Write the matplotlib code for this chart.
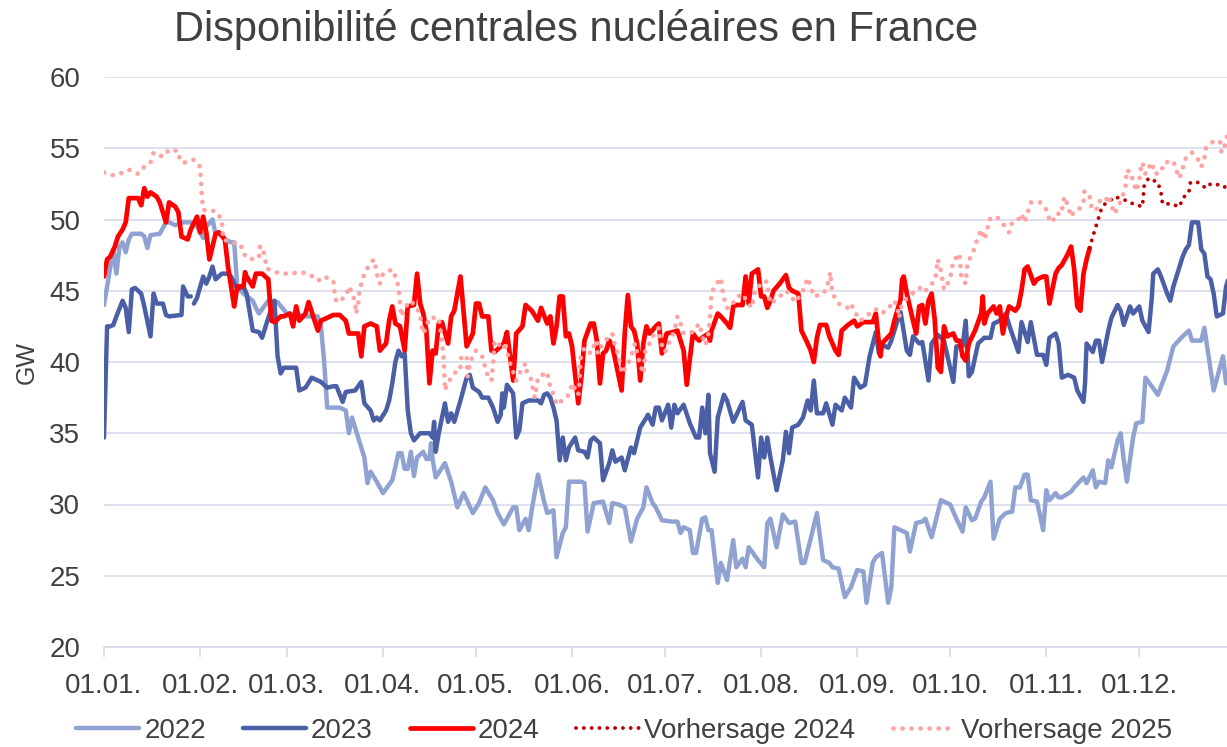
import numpy as np
import matplotlib
matplotlib.use("Agg")
import matplotlib.pyplot as plt

plt.rcParams['font.family'] = ['Liberation Sans', 'DejaVu Sans']

# ---- data (day of year, GW) ----
days_2022 = [0, 3, 4, 5, 6, 7, 8, 9, 12, 13, 14, 15, 18, 20, 21, 23, 25.5, 28, 30, 32, 33, 35, 36, 37, 39, 41, 42,
             43, 45, 48, 49, 50, 53, 56, 59, 63, 65, 69, 70, 71, 72, 76, 78, 79, 80, 83, 84, 85, 86, 88, 90, 92, 93,
             95, 96, 97, 98, 99, 100, 101, 103, 104, 105, 105.5, 106, 107, 110, 112, 114, 116, 119, 121, 123, 125.5,
             127, 129, 132, 133, 134, 136, 137, 138, 140, 142, 143, 145, 146, 148, 149, 150, 154, 155, 156, 158, 161,
             163, 164, 166, 168, 170, 172, 174, 175, 177, 178, 180, 183, 185, 186, 187, 189, 190, 191, 193, 194, 195,
             196, 198, 199, 201, 203, 204, 206, 207, 208, 211, 213, 214, 215, 217, 219, 221, 223, 225, 226, 228, 230,
             232, 234, 235, 237, 239, 241, 243, 245, 246, 248, 249, 251, 253, 254, 255, 257, 259, 260, 262, 264, 265,
             267, 270, 273, 275, 277, 278, 280, 281, 283, 284, 286, 287, 289, 291, 293, 294, 295.5, 297, 298, 299,
             301, 303, 304, 305, 307, 308, 309, 312, 313, 316, 317, 319, 320, 321, 323, 324, 325, 327, 328, 329, 330,
             332, 333, 335, 336, 340, 343, 345, 348, 350, 351, 354, 355, 358, 361, 362]
gw_2022 = [44.0, 47.9, 46.2, 48.1, 48.4, 47.7, 48.6, 49.0, 49.0, 48.8, 48.0, 48.9, 49.0, 49.8, 49.8, 49.6, 49.8, 49.8,
           49.5, 48.7, 49.5, 50.0, 49.0, 49.1, 48.6, 48.4, 48.4, 45.3, 44.8, 44.3, 43.8, 43.4, 44.3, 44.2, 43.4, 43.3,
           43.2, 43.2, 42.5, 40.1, 36.8, 36.8, 36.6, 35.0, 36.1, 34.0, 33.3, 31.5, 32.3, 31.6, 30.8, 31.4, 31.7, 33.6,
           33.6, 32.5, 32.5, 33.7, 32.0, 33.3, 33.7, 33.2, 33.2, 34.3, 33.2, 31.9, 32.9, 31.6, 29.8, 30.8, 29.4, 30.1,
           31.2, 30.3, 29.4, 28.6, 29.8, 29.8, 28.2, 29.0, 28.2, 29.6, 32.1, 30.2, 29.4, 29.6, 26.3, 28.0, 28.4, 31.6,
           31.6, 31.5, 28.1, 30.1, 30.2, 28.7, 30.1, 30.0, 29.8, 27.4, 29.0, 29.8, 31.2, 30.1, 29.8, 28.9, 28.8, 28.8,
           28.0, 28.4, 28.2, 26.6, 26.6, 29.0, 29.1, 28.2, 28.2, 24.5, 25.9, 24.7, 27.5, 25.6, 26.2, 25.6, 27.0, 26.1,
           25.6, 28.7, 29.0, 27.0, 29.3, 28.7, 28.8, 25.9, 25.9, 27.6, 29.4, 26.1, 25.9, 25.6, 25.5, 23.5, 24.2, 25.4,
           25.3, 23.1, 25.9, 26.3, 26.6, 23.1, 24.2, 28.4, 28.2, 28.0, 26.7, 28.7, 28.8, 29.0, 27.7, 30.3, 30.0, 29.0,
           28.1, 29.8, 28.9, 29.0, 30.2, 30.5, 31.6, 27.6, 29.0, 29.4, 29.5, 31.2, 31.2, 32.1, 32.1, 30.3, 30.2, 28.2,
           31.0, 30.3, 30.8, 30.5, 30.5, 30.9, 31.2, 31.9, 31.5, 32.4, 31.2, 31.6, 31.5, 33.1, 32.6, 34.5, 35.0, 33.1,
           31.6, 34.7, 35.7, 35.8, 38.9, 37.7, 39.4, 41.1, 41.8, 42.2, 41.5, 41.5, 42.4, 38.0, 40.4, 38.5]

days_2023 = [0, 1, 2, 3, 4, 6, 7, 8, 9, 10, 12, 13, 15, 16, 17, 19, 20, 21, 25, 25.5, 27, 28, 28.5, 29, 30, 32, 33,
             34, 35, 36, 38, 40, 41, 43, 45, 46, 48, 50, 51, 53, 55, 56, 57, 58, 60, 62, 63, 65, 67, 70, 72, 74, 75,
             77, 78, 81, 83, 84, 86, 87, 88, 89, 91, 92, 93, 94, 95, 96, 97, 98, 99, 100, 102, 105, 106, 106.5, 107,
             108, 110, 111, 112, 113, 115, 117, 118, 119, 121, 122, 124, 125.5, 127, 128, 128.5, 129, 130, 132, 133,
             134, 135, 137, 140, 141, 142, 143, 144, 145, 146, 147, 148, 149, 150, 152, 153, 155, 156, 157, 158, 160,
             161, 163, 164, 165, 167, 168, 170, 171, 173, 175, 175.5, 177, 178, 179, 180, 182, 183, 184, 185, 187,
             189, 191, 192, 193, 194, 195, 195.5, 197, 198, 200, 201, 203, 206, 207, 209, 211, 212, 213, 214, 215,
             217, 219, 220, 221, 222, 224, 225.5, 227, 228, 229, 230, 232, 233, 235, 236, 238, 239, 241, 242, 244,
             245.5, 247, 249, 250, 251, 253, 254, 256, 257, 259, 260, 261, 263, 264, 266, 267, 269, 271, 274, 275,
             277, 278, 279, 280, 282, 284, 286, 287, 289, 291, 292, 295, 296, 298, 299, 301, 303, 304, 305, 307, 308,
             309, 311, 313, 314, 316, 316.5, 317, 319, 320, 321, 322, 324, 325, 327, 328, 329, 331, 332, 334, 335,
             337, 338, 338.5, 340, 341, 343, 344, 345, 346, 348, 349, 350, 351, 353, 354, 355, 356, 357, 358, 359,
             361, 362, 363]
gw_2023 = [34.7, 42.5, 42.5, 42.6, 43.2, 44.3, 43.8, 42.1, 45.1, 45.2, 44.8, 43.9, 41.8, 44.8, 44.1, 44.1, 43.3, 43.2,
           43.3, 45.3, 44.6, 44.6, np.nan, 44.1, 44.5, 46.0, 45.5, 46.0, 46.7, 45.8, 46.2, 46.2, 46.0, 45.1, 45.3,
           44.8, 42.2, 42.1, 41.7, 43.1, 44.3, 40.4, 39.2, 39.6, 39.6, 39.6, 38.0, 38.2, 38.9, 38.6, 38.2, 38.3, 38.3,
           37.2, 37.9, 38.0, 38.6, 37.1, 36.6, 35.9, 36.1, 35.9, 36.6, 37.3, 38.5, 40.0, 40.8, 40.4, 40.6, 36.6, 35.0,
           34.5, 35.0, 35.0, 34.7, 35.8, 33.7, 35.0, 37.1, 35.8, 36.4, 35.8, 37.3, 38.9, 39.1, 38.2, 37.9, 37.5, 37.5,
           36.8, 35.8, 36.3, 37.8, 36.8, 38.4, 37.8, 34.7, 35.2, 37.1, 37.3, 37.3, 37.1, 37.7, 37.8, 37.5, 36.8, 35.9,
           33.1, 34.7, 33.1, 34.0, 34.7, 33.8, 33.7, 33.3, 34.5, 34.7, 34.3, 31.7, 32.9, 33.8, 33.0, 33.3, 32.4, 34.0,
           33.6, 35.4, 36.1, 36.3, 35.6, 36.8, 36.8, 35.9, 37.0, 35.4, 37.0, 36.4, 37.0, 35.7, 34.7, 34.7, 36.8, 35.0,
           37.7, 33.6, 32.3, 36.1, 37.7, 37.3, 35.8, 37.2, 35.9, 35.6, 31.9, 34.7, 33.3, 34.7, 33.3, 31.0, 33.1, 35.1,
           33.6, 35.4, 35.6, 36.1, 37.3, 36.6, 38.7, 36.4, 36.4, 37.1, 35.6, 37.0, 36.6, 37.5, 36.8, 38.9, 38.2, 38.4,
           40.4, 42.1, 40.6, 41.2, 41.0, 41.5, 42.9, 43.5, 40.8, 40.5, 41.8, 41.3, 41.4, 38.7, 41.3, 41.9, 41.5, 38.6,
           41.1, 41.1, 42.9, 39.0, 39.3, 41.3, 41.7, 41.7, 42.7, 42.9, 43.4, 42.6, 40.7, 42.8, 41.4, 42.8, 40.5, 40.5,
           39.8, 41.7, 42.0, 41.3, 38.9, 39.1, 38.9, 38.0, 37.2, 38.5, 41.3, 40.7, 41.5, 41.5, 40.0, 42.2, 43.1, 44.0,
           43.6, 42.6, 43.9, 43.4, 43.9, 42.9, 42.1, 44.4, 46.2, 46.5, 46.0, 44.8, 44.3, 45.3, 46.0, 47.4, 47.9, 48.2,
           49.8, 49.8, 47.9, 47.6, 46.0, 45.8, 44.8, 43.2, 43.4, 45.3, 46.0]

days_2024 = [0, 1, 2, 3.5, 4.5, 6, 7, 8, 11, 12, 13, 14, 15, 17, 18, 20, 21, 23, 24, 25, 27, 28, 30, 31, 32, 33, 34,
             36, 37, 39, 40, 42, 43, 45, 45.5, 46, 48, 49, 51, 53, 54, 55, 57, 58, 60, 61, 62, 63, 65, 66, 69, 70, 72,
             74, 76, 78, 79, 82, 83, 84, 86, 88, 89, 91, 92, 93, 94, 95.5, 97, 98, 100, 101, 102, 103, 104, 105, 106,
             107, 108, 109, 111, 112, 113, 115, 117, 119, 120, 121, 122, 124, 125, 126, 128, 129, 130, 132, 133, 135,
             136, 138, 140, 141, 143, 144, 145, 146, 147, 148, 149, 150, 151, 153, 154, 155, 157, 158, 159, 160, 161,
             162, 163, 164, 165, 167, 168, 169, 170, 171, 172, 173, 174, 175, 176, 178, 179, 180, 181.5, 183.5, 185,
             187, 188, 190, 191, 192, 193, 195, 195.5, 196, 198, 199, 201, 202, 203, 204, 206, 207, 208, 209, 211,
             212, 213, 214, 215, 216, 218, 220, 221, 222, 224, 225, 227, 228, 229, 230, 231, 233, 234, 236, 237, 238,
             239, 240, 242, 243, 245, 246, 248, 249, 250, 250.5, 251, 254, 255, 257, 257.5, 258, 259, 261, 262, 263,
             264, 265, 266, 267, 268, 269, 270, 271, 272, 274, 275, 276, 277, 278, 279, 281, 283, 283.5, 284, 285,
             287, 288, 289, 290, 291, 292, 294, 295, 296, 297, 298, 300, 301, 303, 304, 305, 307, 308, 309, 311, 312,
             313, 314, 315, 316, 317, 318]
gw_2024 = [46.0, 47.2, 47.4, 48.1, 48.8, 49.3, 49.8, 51.5, 51.5, 51.0, 52.2, 51.6, 51.9, 51.6, 51.2, 49.8, 51.2, 50.9,
           50.5, 48.8, 48.6, 49.3, 50.2, 49.1, 50.2, 49.1, 47.2, 49.0, 49.1, 48.6, 46.7, 43.9, 45.3, 45.3, 46.3, 46.0,
           45.3, 46.2, 46.2, 45.8, 42.9, 42.8, 43.2, 43.2, 43.4, 42.5, 43.9, 42.9, 43.4, 44.2, 42.2, 42.9, 43.1, 43.3,
           43.3, 42.9, 42.0, 42.0, 40.4, 42.5, 42.7, 42.5, 40.8, 41.3, 42.9, 43.9, 42.7, 42.5, 40.8, 43.9, 44.0, 46.2,
           44.1, 43.4, 42.2, 38.5, 40.8, 40.6, 42.7, 42.8, 41.3, 43.2, 43.6, 46.0, 41.1, 42.0, 44.1, 44.1, 43.2, 43.2,
           40.8, 40.7, 41.1, 41.3, 42.1, 38.7, 42.0, 42.5, 44.0, 43.6, 42.9, 43.8, 42.7, 43.2, 41.3, 42.5, 44.6, 44.6,
           41.8, 42.0, 41.1, 37.1, 38.9, 41.5, 42.7, 42.7, 41.5, 38.5, 40.6, 40.8, 41.5, 41.1, 40.1, 38.0, 42.0, 44.7,
           42.5, 42.2, 41.3, 38.7, 41.3, 42.5, 42.0, 42.5, 42.7, 40.6, 42.0, 42.1, 42.2, 40.8, 38.4, 42.0, 41.7, 41.5,
           41.7, 42.0, 41.5, 42.2, 43.4, 43.2, 42.7, 42.4, 43.9, 44.0, 44.0, 46.0, 44.1, 46.2, 46.5, 44.6, 44.6, 43.8,
           44.3, 45.0, 45.5, 46.1, 45.2, 45.0, 44.8, 42.2, 41.3, 40.8, 40.0, 41.7, 42.6, 42.6, 41.8, 40.8, 40.5, 42.2,
           42.4, 42.6, 42.9, 42.5, 42.8, 42.8, 42.8, 43.4, 41.3, 40.4, 41.3, 42.0, 42.9, 44.4, 45.8, 46.0, 44.8, 42.9,
           42.0, 43.9, 44.0, 42.7, 44.3, 44.8, 43.0, 39.6, 39.3, 42.5, 41.8, 42.0, 41.5, 41.5, 40.4, 40.1, 41.3, 42.2,
           43.4, 44.6, 42.7, 43.4, 43.9, 43.4, 43.9, 42.0, 43.2, 43.9, 43.6, 43.9, 45.0, 46.5, 46.7, 45.5, 45.8, 46.0,
           46.0, 44.1, 46.2, 46.6, 46.8, 47.6, 48.1, 46.5, 43.9, 43.6, 46.2, 47.2, 48.0]

days_fc2024 = [318, 319, 320, 321, 322, 323, 324, 326, 329, 332, 335, 335.3, 335.6, 337, 340, 341, 341.5, 344, 347,
               348, 350, 350.5, 353, 355.5, 357, 361, 362]
gw_fc2024 = [48.0, 48.8, 49.5, 50.2, 50.9, 51.1, 51.2, 51.6, 51.4, 51.1, 50.9, 51.6, 52.4, 52.9, 52.6, 51.9, 51.1,
             51.1, 50.9, 51.5, 51.9, 52.6, 52.6, 52.2, 52.5, 52.4, 52.2]

days_fc2025 = [0, 3, 5, 8, 11, 13, 15, 16, 19, 21, 24, 24.5, 26, 29, 31, 31.2, 31.4, 31.6, 32, 33, 36, 38, 38.2, 38.4,
               41, 44, 45, 47, 50, 50.3, 51, 52, 52.3, 54, 57, 60, 63, 66, 69, 71, 74, 74.3, 75, 76, 78, 79, 80, 81,
               81.3, 82, 82.3, 83, 84, 85, 87, 88, 88.3, 89, 90, 93, 94, 95, 95.3, 95.6, 96, 97, 99, 102, 102.3, 103,
               104, 105, 108, 108.5, 109, 109.3, 109.6, 110, 111, 113, 114, 115, 115.3, 117, 117.3, 118, 119, 120, 122,
               123, 124, 125, 125.3, 125.6, 125.8, 126, 129, 129.3, 130, 131, 133, 134, 136, 136.3, 138, 138.3, 139,
               140, 143, 143.3, 144, 145.5, 146, 150, 151, 153, 153.2, 153.4, 153.6, 153.8, 155, 157, 158, 159, 159.3,
               161, 163, 164, 164.3, 165, 166, 167, 169, 171, 171.3, 172, 173, 174, 174.3, 174.6, 176, 177, 179, 179.3,
               180, 181, 184, 185, 186, 187, 190, 192, 192.3, 193, 194, 195, 195.3, 195.6, 195.8, 196, 198, 199, 199.3,
               200, 201, 202, 204, 206, 207, 209, 210, 213, 214, 214.3, 215, 217, 220, 221, 223, 225, 226, 227, 228,
               229, 232, 233, 234, 234.3, 234.6, 235, 237, 240, 241, 242, 244, 247, 249, 251, 254, 255, 256, 256.5,
               257, 259, 262, 264, 265, 268, 268.3, 268.6, 269, 270, 271, 273, 273.3, 274, 276, 276.3, 276.6, 278,
               278.3, 278.6, 280, 281, 282, 283, 284, 285, 285.5, 288, 290, 292, 293, 295, 296, 297, 298, 299, 302,
               304, 305, 306, 307, 309, 309.3, 310, 311, 312, 313, 315, 316, 316.3, 318, 318.3, 320, 321, 323, 324,
               325, 326, 327, 328, 329, 330, 329.5, 331, 332, 333, 334, 334.3, 335, 336, 338, 339, 341, 342, 345,
               346, 347, 348, 349, 351, 353, 354, 355, 355.5, 358, 360, 360.5, 362, 362.5]
gw_fc2025 = [53.3, 53.1, 53.2, 53.5, 53.2, 53.7, 54.0, 54.7, 54.4, 54.9, 54.8, 54.1, 54.0, 54.2, 53.7, 53.0, 52.2,
             51.5, 50.7, 50.6, 50.6, 50.0, 49.3, 48.6, 48.4, 48.3, 47.6, 47.2, 47.3, 48.1, 48.1, 47.3, 46.6, 46.4,
             46.2, 46.2, 46.3, 46.2, 45.7, 46.0, 45.7, 45.0, 44.2, 44.3, 44.6, 45.3, 44.9, 44.2, 43.4, 44.0, 44.8,
             45.5, 46.2, 46.6, 47.2, 46.4, 45.8, 45.5, 46.2, 46.5, 46.0, 45.3, 44.6, 43.8, 43.2, 43.8, 44.3, 43.4,
             42.7, 42.0, 42.5, 43.1, 43.1, 42.3, 41.6, 40.9, 40.2, 38.0, 38.6, 39.1, 39.6, 39.6, 40.4, 40.4, 39.0,
             39.8, 40.5, 40.8, 40.4, 39.6, 38.9, 38.7, 39.4, 40.1, 40.8, 41.5, 40.9, 41.4, 40.8, 39.9, 38.7, 39.2,
             39.9, 39.4, 38.7, 38.2, 37.5, 38.9, 39.3, 38.9, 38.2, 37.5, 37.0, 37.7, 38.5, 37.7, 38.0, 38.7, 39.6,
             40.3, 41.0, 40.6, 41.1, 41.5, 40.6, 41.3, 41.8, 42.0, 41.7, 41.0, 40.5, 39.2, 39.8, 41.0, 41.3, 40.6,
             39.8, 39.2, 39.8, 40.8, 41.3, 41.8, 42.4, 41.8, 41.2, 40.7, 42.2, 43.2, 42.7, 42.0, 42.1, 42.7, 42.5,
             41.8, 41.2, 42.0, 42.7, 43.4, 44.1, 44.9, 45.6, 45.9, 45.3, 44.5, 43.8, 43.8, 44.5, 44.8, 44.4, 43.8,
             45.0, 45.7, 45.6, 44.9, 44.1, 44.4, 45.0, 44.8, 44.2, 44.8, 45.2, 45.9, 45.3, 44.6, 44.8, 45.1, 45.9,
             46.3, 45.5, 44.8, 44.1, 43.8, 44.1, 43.6, 42.9, 43.4, 43.7, 43.4, 44.0, 44.3, 43.8, 43.1, 43.8, 44.5,
             45.0, 45.3, 45.0, 45.7, 46.0, 46.5, 47.2, 46.4, 45.1, 45.8, 46.3, 47.1, 47.6, 46.7, 45.9, 45.5, 46.3,
             47.0, 47.5, 48.1, 48.8, 49.3, 48.6, 49.3, 50.0, 50.2, 49.7, 49.1, 49.8, 50.0, 50.4, 49.8, 50.5, 51.2,
             51.2, 50.7, 50.0, 49.8, 50.4, 50.4, 51.2, 51.6, 50.9, 50.2, 50.6, 50.8, 51.3, 52.0, 51.6, 51.0, 50.6,
             51.3, 51.2, 51.7, 51.0, 50.4, 50.8, 51.3, 51.9, 52.7, 53.4, 53.4, 52.7, 52.0, 52.7, 53.4, 54.0, 53.2,
             54.0, 53.2, 53.3, 54.0, 54.1, 53.4, 52.9, 53.6, 54.3, 54.7, 54.2, 53.7, 54.3, 55.0, 55.5, 55.5, 54.7,
             55.4, 56.1]

month_days = [0, 31, 59, 90, 120, 151, 181, 212, 243, 273, 304, 334]
month_labels = ['01.01.', '01.02.', '01.03.', '01.04.', '01.05.', '01.06.',
                '01.07.', '01.08.', '01.09.', '01.10.', '01.11.', '01.12.']

# ---- plot ----
text_color = '#404040'
grid_color = '#D9DAEA'

fig = plt.figure(figsize=(12.27, 7.47), dpi=100)
ax = fig.add_axes([104 / 1227, 1 - 647 / 747, 1 - 104 / 1227, (647 - 77) / 747])

ax.plot(days_2022, gw_2022, color='#8FA2D1', lw=3.2, label='2022', solid_capstyle='round', solid_joinstyle='round')
ax.plot(days_2023, gw_2023, color='#4A5FA5', lw=3.2, label='2023', solid_capstyle='round', solid_joinstyle='round')
ax.plot(days_2024, gw_2024, color='#FF0000', lw=3.4, label='2024', solid_capstyle='round', solid_joinstyle='round')
ax.plot(days_fc2024, gw_fc2024, color='#C00000', lw=2.8, linestyle=(0, (0.01, 2.0)),
        dash_capstyle='round', label='Vorhersage 2024')
ax.plot(days_fc2025, gw_fc2025, color='#FFA3A3', lw=3.4, linestyle=(0, (0.01, 1.9)),
        dash_capstyle='round', label='Vorhersage 2025')

ax.set_xlim(0, 362.3)
ax.set_ylim(20, 60)
ax.set_yticks(range(20, 61, 5))
ax.set_xticks(month_days)
ax.set_xticklabels(month_labels)
ax.grid(axis='y', color=grid_color, lw=1.2)
ax.set_axisbelow(True)

for side in ['top', 'right', 'left']:
    ax.spines[side].set_visible(False)
ax.spines['bottom'].set_color(grid_color)
ax.spines['bottom'].set_linewidth(1.2)

ax.tick_params(axis='y', length=0, pad=17, labelsize=20, labelcolor=text_color)
ax.tick_params(axis='x', length=7, width=1.2, color=grid_color, pad=12, labelsize=20, labelcolor=text_color)

ax.set_ylabel('GW', fontsize=18, color=text_color, labelpad=8)

fig.text(576 / 1227, 1 - 29 / 747, 'Disponibilité centrales nucléaires en France',
         ha='center', va='center', fontsize=30, color=text_color)

leg = fig.legend(loc='center', bbox_to_anchor=(624 / 1227, 1 - 731 / 747), ncol=5, frameon=False,
                 fontsize=20, handlelength=2.27, handletextpad=0.18, columnspacing=1.33)
for t in leg.get_texts():
    t.set_color(text_color)

fig.savefig('out.png', dpi=100)
